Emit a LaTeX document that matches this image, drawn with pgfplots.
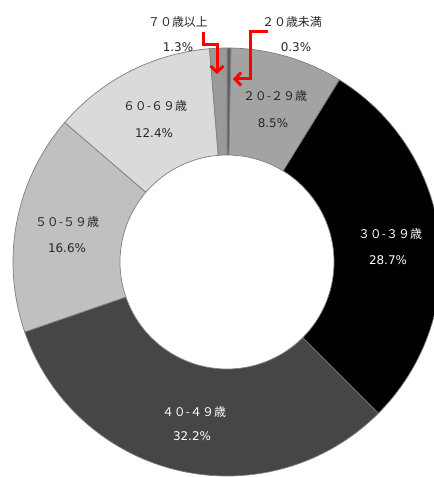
\documentclass[border=0pt]{standalone}
\usepackage{pgfplots}
\pgfplotsset{compat=1.18}
\usepackage{pgfplotstable}
\usepackage{fontspec}
\setmainfont{Noto Sans CJK JP}
\newfontfamily\pctfont{DejaVu Sans}
\usetikzlibrary{arrows.meta}

% slice colours, clockwise from the top
\definecolor{s0}{HTML}{5F5F5F}
\definecolor{s1}{HTML}{A3A3A3}
\definecolor{s2}{HTML}{000000}
\definecolor{s3}{HTML}{464646}
\definecolor{s4}{HTML}{C0C0C0}
\definecolor{s5}{HTML}{DADADA}
\definecolor{s6}{HTML}{9A9A9A}
\definecolor{edge}{HTML}{7F7F7F}

% age groups: cumulative start (%) and share (%)
\pgfplotstableread{
start pct
0    0.3
0.3  8.5
8.8  28.7
37.5 32.2
69.7 16.6
86.3 12.4
98.7 1.3
}\ages

\def\cx{227}\def\cy{262}\def\R{214}\def\r{107}

\begin{document}
\begin{tikzpicture}
\begin{axis}[
    scale only axis, width=434bp, height=477bp,
    xmin=0, xmax=434, ymin=0, ymax=477,
    y dir=reverse, hide axis,
  ]
  \pgfplotsinvokeforeach{0,...,6}{%
    \pgfplotstablegetelem{#1}{start}\of\ages \let\s\pgfplotsretval
    \pgfplotstablegetelem{#1}{pct}\of\ages \let\p\pgfplotsretval
    \edef\doslice{\noexpand\addplot[fill=s#1, draw=edge, line width=0.7bp,
        domain=\s:\s+\p, samples=90, variable=\noexpand\t]
      ({\cx+\R*sin(3.6*\noexpand\t)}, {\cy-\R*cos(3.6*\noexpand\t)})
      -- (axis cs:\cx,\cy) -- cycle;}
    \doslice
  }
  % hole
  \addplot[fill=white, draw=edge, line width=0.7bp, domain=0:360, samples=180, variable=\t]
    ({\cx+\r*cos(\t)}, {\cy+\r*sin(\t)}) -- cycle;

  % labels
  \begin{scope}[every node/.style={font=\fontsize{12}{14}\selectfont, inner sep=0pt, text=black!85},
                pc/.style={font=\pctfont\fontsize{12}{14}\selectfont}]
    \node at (axis cs:178,22) {７０歳以上};
    \node[pc] at (axis cs:178,47) {1.3\%};
    \node at (axis cs:292,22) {２０歳未満};
    \node[pc] at (axis cs:296,47) {0.3\%};
    \node at (axis cs:275,96) {２０-２９歳};
    \node[pc] at (axis cs:273,123) {8.5\%};
    \node[text=white] at (axis cs:390,234) {３０-３９歳};
    \node[pc, text=white] at (axis cs:388,260) {28.7\%};
    \node[text=white] at (axis cs:194,412) {４０-４９歳};
    \node[pc, text=white] at (axis cs:192,436) {32.2\%};
    \node at (axis cs:67,222) {５０-５９歳};
    \node[pc] at (axis cs:67,248) {16.6\%};
    \node at (axis cs:155,106) {６０-６９歳};
    \node[pc] at (axis cs:154,133) {12.4\%};
  \end{scope}

  % red call-out arrows for the two thin slices
  \addplot[red, line width=3bp, line join=miter,
    -{Straight Barb[length=6bp,width=13bp]}]
    coordinates {(203,32) (203,45) (217,45) (217,74)};
  \addplot[red, line width=3bp, line join=miter,
    -{Straight Barb[length=6bp,width=13bp]}]
    coordinates {(268,32) (250,32) (250,79) (233,79)};
\end{axis}
\pgfresetboundingbox
\path[use as bounding box] (current axis.south west) rectangle (current axis.north east);
\end{tikzpicture}
\end{document}
